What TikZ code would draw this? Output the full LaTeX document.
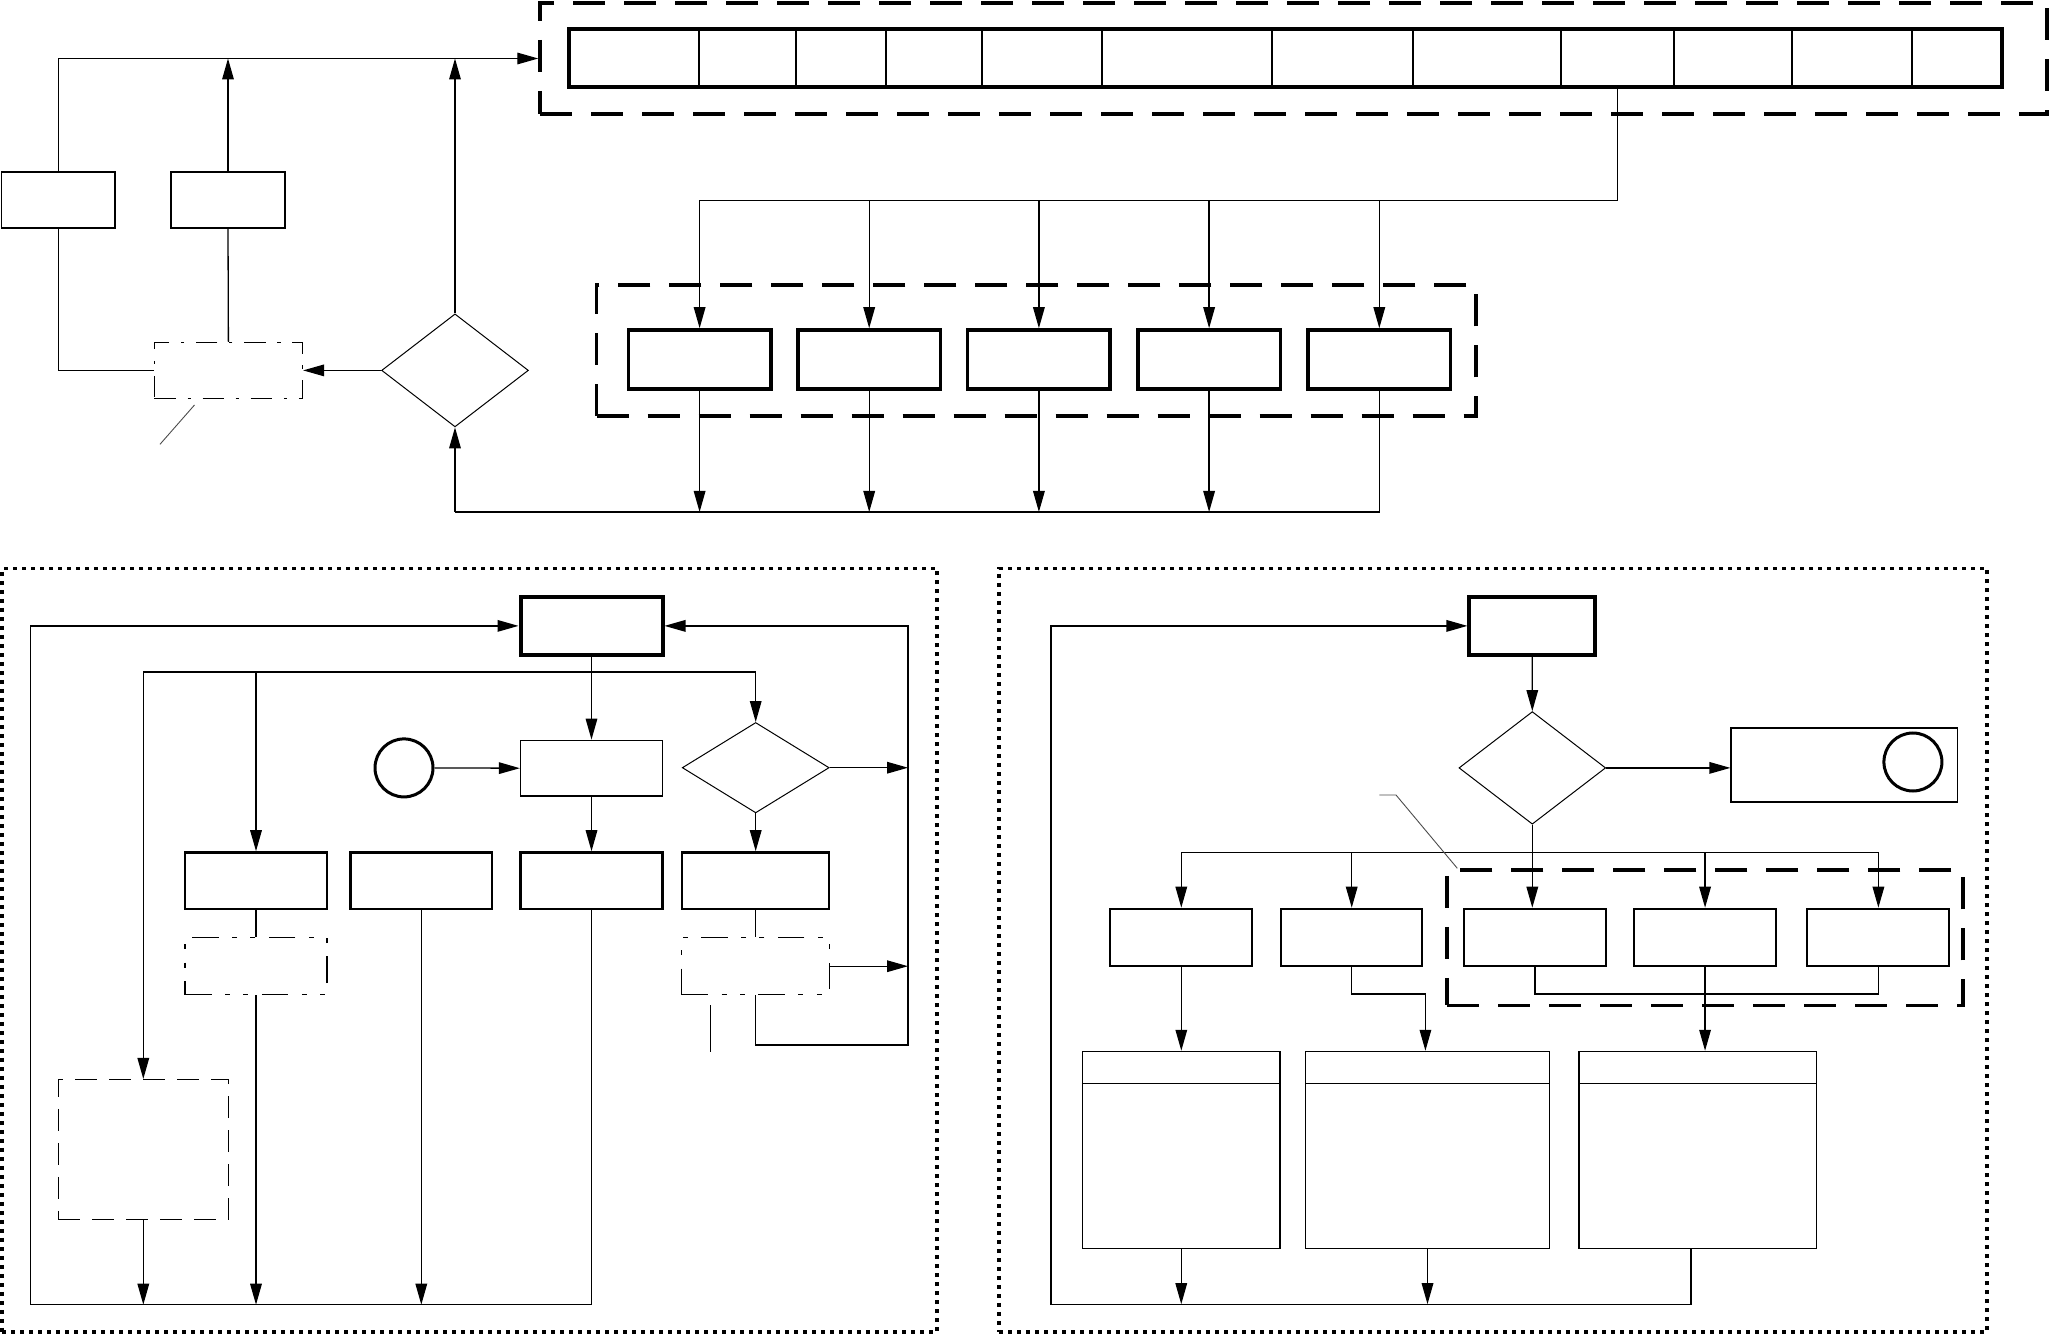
\documentclass[tikz,border=0pt]{standalone}
\usetikzlibrary{arrows.meta,shapes.geometric,fit,calc}
\tikzset{
  ln/.style={line width=0.65pt},
  arr/.style={line width=0.65pt,-{Triangle[length=10.5pt,width=5.8pt]}},
  thinbox/.style={draw,line width=0.65pt,inner sep=0pt},
  medbox/.style={draw,line width=1.2pt,inner sep=0pt},
  thickbox/.style={draw,line width=2pt,inner sep=0pt},
  grpdash/.style={draw,line width=1.75pt,dash pattern=on 16pt off 9.5pt,inner sep=0pt},
  dotframe/.style={draw,line width=1.8pt,dash pattern=on 1.8pt off 2.7pt,inner sep=0pt},
  dashdotbox/.style={draw,line width=0.6pt,dash pattern=on 10.8pt off 5.8pt on 1.7pt off 5.8pt,inner sep=0pt},
  dashddbox/.style={draw,line width=0.6pt,dash pattern=on 13.3pt off 6.7pt on 2.5pt off 6.7pt on 2.5pt off 6.7pt,inner sep=0pt},
  dashbox/.style={draw,line width=0.6pt,dash pattern=on 11pt off 6pt,inner sep=0pt},
  dia/.style={draw,diamond,line width=0.5pt,inner sep=0pt},
  ring/.style={draw,circle,line width=1.5pt,inner sep=0pt,minimum size=29pt},
  leader/.style={line width=0.45pt,draw=black!70},
  divider/.style={line width=1pt},
}
\begin{document}
\begin{tikzpicture}[x=0.5pt,y=-0.5pt]
\useasboundingbox (0,0) rectangle (2050,1336);

% ---------------- top section ----------------
\node[grpdash,fit={(540,3) (2047,114)}] (grp1) {};
\node[thickbox,fit={(569,29) (2002,87)}] (arr) {};
\foreach \x in {699,796,886,982,1102,1272,1413,1561,1674,1792,1912}
  \draw[divider] (\x,29) -- (\x,87);

\node[thinbox,fit={(1.5,172) (115,228)}] (L1) {};
\node[thinbox,fit={(171,172) (285,228)}] (L2) {};
\node[dashdotbox,fit={(154.3,342.5) (302.5,398.3)}] (DD) {};
\node[dia,minimum width=73.4pt,minimum height=56.5pt] (D1) at (455,370.4) {};
\coordinate (bl) at (455,512);
\coordinate (ld1a) at (194.5,405);
\coordinate (ld1b) at (160,444.3);

\draw[arr] (L1.north) |- (grp1.west);
\draw[arr] (L2.north) -- (L2.north |- grp1.west);
\draw[ln] (L1.south) |- (DD.west);
\draw[ln] (L2.south) -- (DD.north);
\draw[arr] (D1.west) -- (DD.east);
\draw[arr] (D1.north) -- (D1.north |- grp1.west);
\draw[leader] (ld1a) -- (ld1b);

\node[grpdash,fit={(596.7,285) (1476,416)}] (grp2) {};
\node[thickbox,line width=1.8pt,fit={(628.35,330) (770.85,389)}] (R1) {};
\node[thickbox,line width=1.8pt,fit={(797.95,330) (940.45,389)}] (R2) {};
\node[thickbox,line width=1.8pt,fit={(967.65,330) (1110.15,389)}] (R3) {};
\node[thickbox,line width=1.8pt,fit={(1137.85,330) (1280.35,389)}] (R4) {};
\node[thickbox,line width=1.8pt,fit={(1308.05,330) (1450.55,389)}] (R5) {};
\coordinate (sp) at (1617.5,200.3);

\draw[ln] (arr.south -| sp) -- (sp) -- (R1.north |- sp);
\foreach \r in {R1,R2,R3,R4,R5}
  \draw[arr] (\r.north |- sp) -- (\r.north);
\foreach \r in {R1,R2,R3,R4}
  \draw[arr] (\r.south) -- (\r.south |- bl);
\draw[ln] (R5.south) |- (bl);
\draw[arr] (bl) -- (D1.south);

% ---------------- bottom left panel ----------------
\node[dotframe,fit={(2,568.5) (937,1332)}] (frameL) {};
\node[thickbox,fit={(520.5,597) (662.5,654.8)}] (TB) {};
\node[thinbox,fit={(520.5,740.3) (662.5,796.1)}] (P) {};
\node[ring] (C1) at (404,767.9) {};
\node[dia,minimum width=73.45pt,minimum height=45.2pt] (D3) at (755.7,767.7) {};
\node[medbox,fit={(185.25,852.4) (326.75,909.1)}] (A) {};
\node[medbox,fit={(350.55,852.4) (492.05,909.1)}] (B) {};
\node[medbox,fit={(520.5,852.4) (662.5,909.1)}] (C) {};
\node[medbox,fit={(682.2,852.4) (829.2,909.1)}] (D) {};
\node[dashddbox,fit={(185,937.8) (327,994.6)}] (A2) {};
\node[dashddbox,fit={(681.6,937.8) (829.8,994.6)}] (D2) {};
\node[dashbox,fit={(58.2,1079.5) (228.4,1219.8)}] (E) {};
\coordinate (lb) at (30.6,1304.7);
\coordinate (rb) at (908,1045);
\coordinate (br) at (143.3,672.1);
\coordinate (ld2a) at (710.3,1005.4);
\coordinate (ld2b) at (710.3,1051.6);

\draw[arr] (C.south) |- (lb) |- (TB.west);
\draw[arr] (D2.south) |- (rb) |- (TB.east);
\draw[arr] (D3.east) -- (D3.east -| rb);
\draw[arr] (D2.east) -- (D2.east -| rb);
\draw[ln] (br) -- (D3.north |- br);
\draw[arr] (br) -- (E.north);
\draw[arr] (A.north |- br) -- (A.north);
\draw[arr] (D3.north |- br) -- (D3.north);
\draw[arr] (TB.south) -- (P.north);
\draw[arr] (C1.east) -- (P.west);
\draw[arr] (P.south) -- (C.north);
\draw[arr] (D3.south) -- (D.north);
\draw[ln] (A.south) -- (A2.north);
\draw[ln] (D.south) -- (D2.north);
\draw[arr] (A2.south) -- (A2.south |- lb);
\draw[arr] (B.south) -- (B.south |- lb);
\draw[arr] (E.south) -- (E.south |- lb);
\draw[line width=0.6pt] (ld2a) -- (ld2b);

% ---------------- bottom right panel ----------------
\node[dotframe,fit={(999,568.5) (1987,1332)}] (frameR) {};
\node[thickbox,fit={(1469.4,597) (1595.1,654.8)}] (TB2) {};
\node[dia,minimum width=73.35pt,minimum height=56.3pt] (D4) at (1532.3,767.9) {};
\node[thinbox,fit={(1731,727.9) (1957.5,802)}] (RB) {};
\node[ring] (C2) at (1912.9,762) {};
\node[grpdash,fit={(1447,870.1) (1963,1005.4)}] (grp3) {};
\node[medbox,line width=1pt,fit={(1110.3,908.7) (1252.3,966)}] (M1) {};
\node[medbox,line width=1pt,fit={(1281,908.7) (1422.4,966)}] (M2) {};
\node[medbox,line width=1pt,fit={(1464,908.7) (1606,966)}] (M3) {};
\node[medbox,line width=1pt,fit={(1634.4,908.7) (1775.7,966)}] (M4) {};
\node[medbox,line width=1pt,fit={(1807.4,908.7) (1949.4,966)}] (M5) {};
\node[thinbox,fit={(1082.5,1051.4) (1280,1248.4)}] (BB1) {};
\node[thinbox,fit={(1305.8,1051.4) (1549.2,1248.4)}] (BB2) {};
\node[thinbox,fit={(1578.9,1051.4) (1816.3,1248.4)}] (BB3) {};
\foreach \b in {BB1,BB2,BB3}
  \draw[ln] ([yshift=-16.5pt]\b.north west) -- ([yshift=-16.5pt]\b.north east);
\coordinate (lb2) at (1050.9,1304.2);
\coordinate (br2) at (1181.3,852.4);
\coordinate (lk) at (1878.4,994.1);
\coordinate (m2k) at (1425.4,994.1);
\coordinate (ld3a) at (1379.3,795);
\coordinate (ld3b) at (1396,795);
\coordinate (ld3c) at (1457.3,868.3);

\draw[arr] ([xshift=-3.25pt]BB3.south) |- (lb2) |- (TB2.west);
\draw[arr] (TB2.south) -- (D4.north);
\draw[arr] (D4.east) -- (D4.east -| RB.west);
\draw[arr] (D4.south) -- (D4.south |- M3.north);
\draw[ln] (br2) -- (M5.north |- br2);
\draw[arr] (br2) -- (M1.north);
\draw[arr] (M2.north |- br2) -- (M2.north);
\draw[arr] (M4.north |- br2) -- (M4.north);
\draw[arr] (M5.north |- br2) -- (M5.north);
\draw[ln] (M3.south) |- (lk) -- (M5.south);
\draw[arr] (M4.south) -- (M4.south |- BB3.north);
\draw[arr] (M2.south) |- (m2k) -- (m2k |- BB2.north);
\draw[arr] (M1.south) -- (M1.south |- BB1.north);
\draw[arr] (BB1.south) -- (BB1.south |- lb2);
\draw[arr] (BB2.south) -- (BB2.south |- lb2);
\draw[leader] (ld3a) -- (ld3b) -- (ld3c);
\end{tikzpicture}
\end{document}
